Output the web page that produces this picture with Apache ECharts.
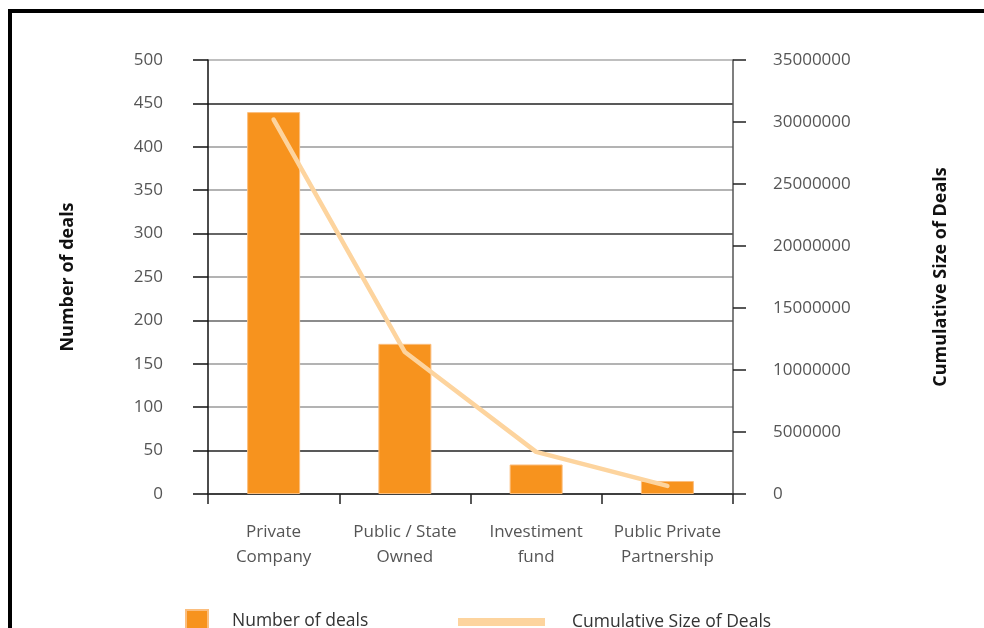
<!DOCTYPE html>
<html>
<head>
<meta charset="utf-8">
<script src="https://cdn.jsdelivr.net/npm/echarts@6/dist/echarts.min.js"></script>
<style>
html,body{margin:0;padding:0;background:#fff;}
#c{width:984px;height:628px;}
</style>
</head>
<body>
<div id="c"></div>
<script>
const categories = ['Private\nCompany', 'Public / State\nOwned', 'Investiment\nfund', 'Public Private\nPartnership'];
const numberOfDeals = [440, 173, 34, 15];
const cumulativeSize = [30200000, 11450000, 3400000, 650000];
const leftAxisMax = 500;
const leftAxisInterval = 50;
const rightAxisMax = 35000000;
const rightAxisInterval = 5000000;

const chart = echarts.init(document.getElementById('c'));
const font = '"Open Sans", "Noto Sans", sans-serif';
chart.setOption({
  animation: false,
  backgroundColor: '#fff',
  textStyle: { fontFamily: font },
  grid: { left: 208, right: 251, top: 60, bottom: 134 },
  legend: [
    {
      data: ['Number of deals'],
      left: 180, top: 604,
      icon: 'rect', itemWidth: 22, itemHeight: 22,
      textStyle: { fontSize: 17.5, color: '#333', fontFamily: font, padding: [0, 0, 0, 19] }
    },
    {
      data: ['Cumulative Size of Deals'],
      left: 453, top: 608,
      icon: 'rect', itemWidth: 87, itemHeight: 8,
      textStyle: { fontSize: 17.5, color: '#333', fontFamily: font, padding: [0, 0, 0, 22] }
    }
  ],
  xAxis: {
    type: 'category',
    data: categories,
    axisLine: { lineStyle: { color: '#333', width: 1.5 } },
    axisTick: { show: true, interval: 0, length: 10, alignWithLabel: false, lineStyle: { color: '#222', width: 1.5 } },
    axisLabel: { interval: 0, hideOverlap: false, fontSize: 17, color: '#555', margin: 26, lineHeight: 25, fontFamily: font }
  },
  yAxis: [
    {
      type: 'value',
      min: 0, max: leftAxisMax, interval: leftAxisInterval,
      name: 'Number of deals',
      nameLocation: 'middle',
      nameGap: 131,
      nameTextStyle: { fontSize: 18, fontWeight: 'bold', color: '#111', fontFamily: font },
      axisLine: { show: true, lineStyle: { color: '#111', width: 1.5 } },
      axisTick: { show: true, length: 15, lineStyle: { color: '#111', width: 1.5 } },
      axisLabel: { fontSize: 17, color: '#555', margin: 45, fontFamily: font },
      splitLine: { show: true, lineStyle: { width: 1.5, color: ['#333', '#222', '#9a9a9a', '#9a9a9a', '#666', '#9a9a9a', '#333', '#9a9a9a', '#9a9a9a', '#222', '#aaa'] } }
    },
    {
      type: 'value',
      min: 0, max: rightAxisMax, interval: rightAxisInterval,
      name: 'Cumulative Size of Deals',
      nameLocation: 'middle',
      nameGap: 199,
      nameRotate: 90,
      nameTextStyle: { fontSize: 18, fontWeight: 'bold', color: '#111', fontFamily: font },
      axisLine: { show: true, lineStyle: { color: '#555', width: 1.5 } },
      axisTick: { show: true, length: 13, lineStyle: { color: '#222', width: 1.5 } },
      axisLabel: { fontSize: 17, color: '#555', margin: 40, fontFamily: font, formatter: v => String(v) },
      splitLine: { show: false }
    }
  ],
  series: [
    {
      name: 'Number of deals',
      type: 'bar',
      data: numberOfDeals,
      barWidth: 53,
      itemStyle: { color: '#F7931E', borderColor: '#FBBE7E', borderWidth: 1 },
      z: 2
    },
    {
      name: 'Cumulative Size of Deals',
      type: 'line',
      yAxisIndex: 1,
      data: cumulativeSize,
      showSymbol: false,
      symbol: 'none',
      itemStyle: { color: '#FDD49E' },
      lineStyle: { color: '#FDD49E', width: 4.5, cap: 'round', join: 'round' },
      z: 3
    }
  ],
  graphic: [
    { type: 'rect', shape: { x: 8, y: 9, width: 976, height: 4 }, style: { fill: '#000' }, silent: true },
    { type: 'rect', shape: { x: 8, y: 9, width: 4, height: 619 }, style: { fill: '#000' }, silent: true }
  ]
});
</script>
</body>
</html>
